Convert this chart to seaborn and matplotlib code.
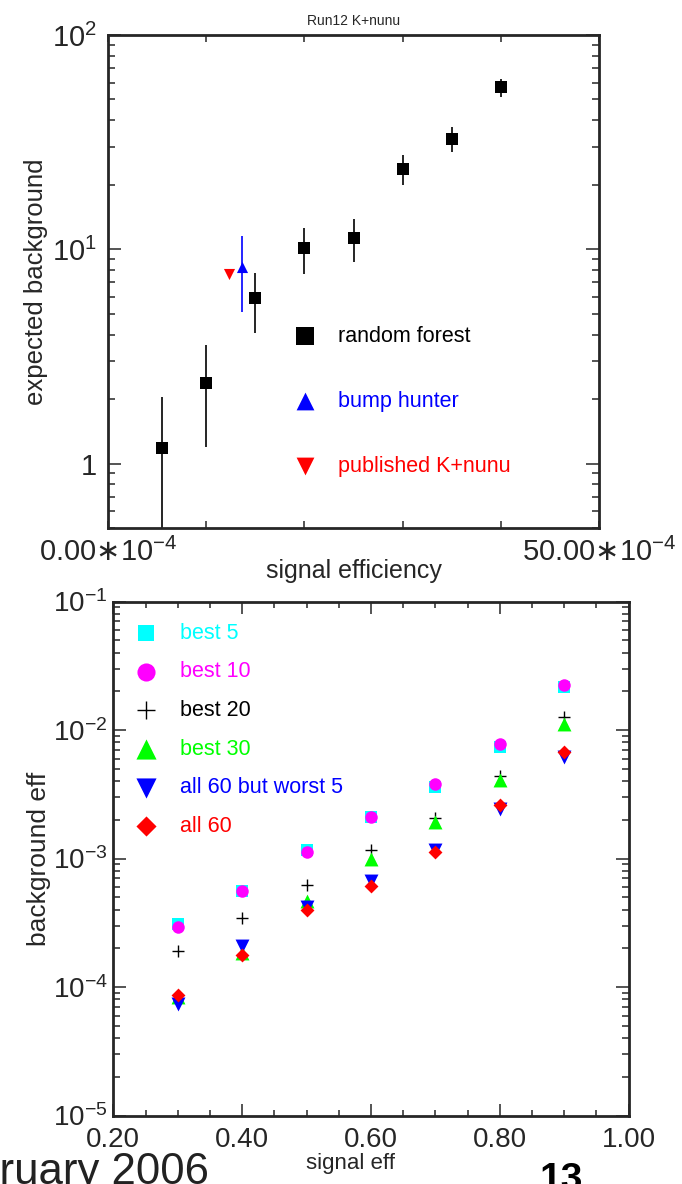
import numpy as np
import pandas as pd
import matplotlib
matplotlib.use("Agg")
import matplotlib.pyplot as plt
import matplotlib.ticker as mticker
import seaborn as sns

# ---- top panel: Run12 K+nunu, expected background vs signal efficiency
rf_eff = [5.5e-4, 10e-4, 15e-4, 20e-4, 25e-4, 30e-4, 35e-4, 40e-4]
rf_bkg = [1.18, 2.38, 5.9, 10.1, 11.3, 23.8, 32.8, 57.0]
rf_err = [0.86, 1.18, 1.85, 2.4, 2.6, 3.8, 4.3, 5.5]
bh_eff = [13.6e-4]
bh_bkg = [8.3]
bh_err = [3.2]
pub_eff = [12.35e-4]
pub_bkg = [7.7]

top_xticks = [0, 10e-4, 20e-4, 30e-4, 40e-4, 50e-4]
top_xlabels = ["0.00$\\ast$10$^{\\mathdefault{-4}}$", "", "", "", "",
               "50.00$\\ast$10$^{\\mathdefault{-4}}$"]
top_yticks = [1, 10, 100]
top_ylabels = ["1", "$\\mathdefault{10^{1}}$", "$\\mathdefault{10^{2}}$"]

# ---- bottom panel: background eff vs signal eff
sig_eff = [0.3, 0.4, 0.5, 0.6, 0.7, 0.8, 0.9]
best5 = [3.11e-4, 5.58e-4, 1.17e-3, 2.09e-3, 3.59e-3, 7.36e-3, 2.18e-2]
best10 = [2.93e-4, 5.55e-4, 1.12e-3, 2.09e-3, 3.79e-3, 7.73e-3, 2.22e-2]
best20 = [1.9e-4, 3.47e-4, 6.27e-4, 1.17e-3, 2.06e-3, 4.36e-3, 1.26e-2]
best30 = [8.3e-5, 1.85e-4, 4.7e-4, 1.0e-3, 1.93e-3, 4.06e-3, 1.11e-2]
all60_but5 = [7.4e-5, 2.09e-4, 4.23e-4, 6.71e-4, 1.17e-3, 2.44e-3, 6.12e-3]
all60 = [8.7e-5, 1.76e-4, 3.94e-4, 6.12e-4, 1.12e-3, 2.59e-3, 6.71e-3]

series_names = ["best 5", "best 10", "best 20", "best 30", "all 60 but worst 5", "all 60"]
series_vals = [best5, best10, best20, best30, all60_but5, all60]
series_colors = ["#00ffff", "#ff00ff", "#000000", "#00ff00", "#0000ff", "#ff0000"]
series_markers = ["s", "o", "+", "^", "v", "D"]
series_sizes = [63, 81, 74, 100, 100, 50]

sns.set_style("ticks")
plt.rcParams["font.family"] = ["Liberation Sans", "DejaVu Sans"]
plt.rcParams["mathtext.fontset"] = "dejavusans"
plt.rcParams["axes.linewidth"] = 2.0

fig = plt.figure(figsize=(6.82, 11.84), dpi=100)
ax1 = fig.add_axes([108 / 682, 1 - 528 / 1184, 491 / 682, 493 / 1184])
ax2 = fig.add_axes([113.3 / 682, 1 - 1115.5 / 1184, 515.3 / 682, 514 / 1184])

# ---------------- top panel
top = pd.DataFrame({"eff": rf_eff, "bkg": rf_bkg, "err": rf_err})
ax1.errorbar(rf_eff, rf_bkg, yerr=rf_err, fmt="none", ecolor="black", elinewidth=1.2)
ax1.errorbar(bh_eff, bh_bkg, yerr=bh_err, fmt="none", ecolor="blue", elinewidth=1.2)
sns.scatterplot(data=top, x="eff", y="bkg", marker="s", color="black", s=63,
                linewidth=0, label="random forest", ax=ax1, zorder=3)
sns.scatterplot(x=bh_eff, y=bh_bkg, marker="^", color="blue", s=64,
                linewidth=0, label="bump hunter", ax=ax1, zorder=3)
sns.scatterplot(x=pub_eff, y=pub_bkg, marker="v", color="red", s=64,
                linewidth=0, label="published K+nunu", ax=ax1, zorder=3)

ax1.set_yscale("log")
ax1.set_xlim(0, 50e-4)
ax1.set_ylim(0.5, 100)
ax1.xaxis.set_major_locator(mticker.FixedLocator(top_xticks))
ax1.xaxis.set_major_formatter(mticker.FixedFormatter(top_xlabels))
ax1.xaxis.set_minor_locator(mticker.NullLocator())
ax1.yaxis.set_major_locator(mticker.FixedLocator(top_yticks))
ax1.yaxis.set_major_formatter(mticker.FixedFormatter(top_ylabels))
ax1.yaxis.set_minor_locator(mticker.LogLocator(base=10, subs=np.arange(2, 10)))
ax1.yaxis.set_minor_formatter(mticker.NullFormatter())
ax1.tick_params(axis="x", which="major", direction="in", top=True, length=5, width=1.1,
                labelsize=21, pad=7)
ax1.tick_params(axis="y", which="major", direction="in", right=True, length=9.5, width=1.1,
                labelsize=21, pad=8)
ax1.tick_params(axis="y", which="minor", direction="in", right=True, length=5, width=1.1)
ax1.set_xlabel("signal efficiency", fontsize=18)
ax1.xaxis.set_label_coords(0.5, -0.063)
ax1.set_ylabel("expected background", fontsize=18.5)
ax1.yaxis.set_label_coords(-0.122, 0.5)
ax1.set_title("Run12 K+nunu", fontsize=10, pad=7)

leg1 = ax1.legend(loc="upper left", bbox_to_anchor=(0.366, 0.41), frameon=False,
                  fontsize=15.5, markerscale=1.6, handlelength=1.6, handletextpad=0.75,
                  labelspacing=2.04, borderpad=0, borderaxespad=0)
for txt, col in zip(leg1.get_texts(), ["black", "blue", "red"]):
    txt.set_color(col)

# ---------------- bottom panel
long = pd.DataFrame({
    "signal eff": np.tile(sig_eff, len(series_names)),
    "background eff": np.concatenate(series_vals),
    "set": np.repeat(series_names, len(sig_eff)),
})
for name, col, mk, sz in zip(series_names, series_colors, series_markers, series_sizes):
    sub = long[long["set"] == name]
    if mk == "+":
        sns.scatterplot(data=sub, x="signal eff", y="background eff", marker=mk,
                        color=col, s=sz, linewidth=1.0, label=name, ax=ax2)
    else:
        sns.scatterplot(data=sub, x="signal eff", y="background eff", marker=mk,
                        color=col, s=sz, linewidth=0, label=name, ax=ax2)

ax2.set_yscale("log")
ax2.set_xlim(0.2, 1.0)
ax2.set_ylim(1e-5, 1e-1)
ax2.xaxis.set_major_locator(mticker.MultipleLocator(0.2))
ax2.xaxis.set_major_formatter(mticker.FormatStrFormatter("%.2f"))
ax2.xaxis.set_minor_locator(mticker.MultipleLocator(0.05))
ax2.yaxis.set_major_locator(mticker.LogLocator(base=10))
ax2.yaxis.set_major_formatter(mticker.LogFormatterSciNotation())
ax2.yaxis.set_minor_locator(mticker.LogLocator(base=10, subs=np.arange(2, 10)))
ax2.yaxis.set_minor_formatter(mticker.NullFormatter())
ax2.tick_params(axis="x", which="major", direction="in", top=True, length=8.5, width=1.1,
                labelsize=20, pad=8)
ax2.tick_params(axis="x", which="minor", direction="in", top=True, length=4, width=1.1)
ax2.tick_params(axis="y", which="major", direction="in", right=True, length=9.5, width=1.1,
                labelsize=20, pad=4)
ax2.tick_params(axis="y", which="minor", direction="in", right=True, length=5, width=1.1)
ax2.set_xlabel("signal eff", fontsize=16)
ax2.xaxis.set_label_coords(0.46, -0.072)
ax2.set_ylabel("background eff", fontsize=19)
ax2.yaxis.set_label_coords(-0.121, 0.5)

leg2 = ax2.legend(loc="upper left", bbox_to_anchor=(0.0295, 0.959), frameon=False,
                  fontsize=15.5, markerscale=1.45, handlelength=1.6, handletextpad=0.8,
                  labelspacing=0.82, borderpad=0, borderaxespad=0)
for txt, col in zip(leg2.get_texts(), series_colors):
    txt.set_color(col)

# slide remnants around the crop
fig.text(209 / 682, 0 / 1184, "February 2006", fontsize=31.5, color="#222222",
         ha="right", va="baseline")
fig.text(540 / 682, -6 / 1184, "13", fontsize=28, fontweight="bold", color="black",
         ha="left", va="baseline")

fig.savefig("out.png", dpi=100)
